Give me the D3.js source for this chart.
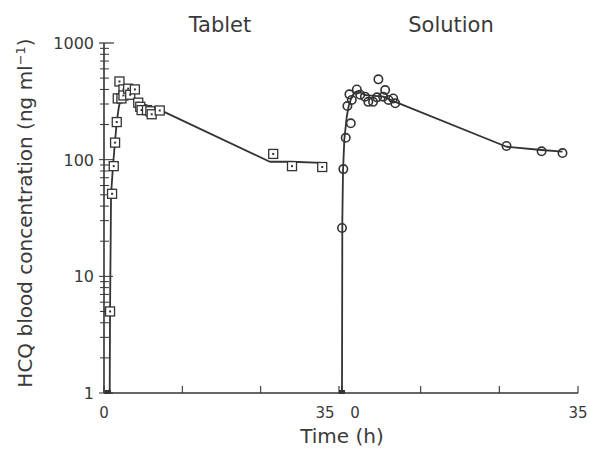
<!DOCTYPE html>
<html>
<head>
<meta charset="utf-8">
<script src="https://cdnjs.cloudflare.com/ajax/libs/d3/7.8.5/d3.min.js"></script>
<style>
  body { margin: 0; background: #fff; }
  text { font-family: "DejaVu Sans", sans-serif; fill: #3a3a3a; }
</style>
</head>
<body>
<div id="chart"></div>
<script>
// Tablet: measured points (time h, ng/ml)
const tabletTime = [0.9, 1.2, 1.45, 1.65, 1.9, 2.05, 2.3, 2.6, 2.9, 2.9, 3.6, 3.9, 4.6, 5.1, 5.4, 5.6, 6.4, 6.9, 7.1, 8.3, 25.2, 28.0, 32.5];
const tabletConc = [5.0, 51, 88, 140, 210, 335, 468, 335, 400, 355, 406, 360, 400, 308, 284, 266, 266, 260, 245, 264, 112, 88, 86.5];
// Tablet: fitted curve
const tabletFitTime = [0.85, 0.9, 1.05, 1.35, 1.65, 1.9, 2.2, 2.5, 2.8, 3.1, 3.5, 4.2, 5.4, 8.4, 24.7, 27.9, 32.5];
const tabletFitConc = [1, 5, 50, 90, 145, 210, 280, 335, 365, 378, 375, 350, 305, 266, 96, 96, 94];

// Solution: measured points
const solutionTime = [0.0, 0.2, 0.55, 0.8, 1.1, 1.3, 1.45, 2.2, 2.7, 3.4, 3.9, 4.6, 5.2, 5.4, 6.1, 6.4, 6.9, 7.6, 7.9, 24.4, 29.6, 32.7];
const solutionConc = [26, 83, 154, 288, 363, 205, 325, 400, 360, 347, 313, 313, 342, 488, 347, 395, 325, 335, 304, 131, 118, 114];
// Solution: fitted curve
const solutionFitTime = [0, 0.05, 0.15, 0.35, 0.7, 1.0, 1.4, 1.8, 2.2, 2.8, 3.5, 6.1, 7.9, 24.4, 29.6, 32.7];
const solutionFitConc = [1, 30, 80, 150, 232, 290, 340, 372, 385, 375, 357, 347, 313, 129, 121, 117];

const yTicks = [1, 10, 100, 1000];
const xTicks = [0, 11.67, 23.33, 35];

const W = 590, H = 452;
const ink = "#333";
const svg = d3.select("#chart").append("svg").attr("width", W).attr("height", H);

const y = d3.scaleLog().domain([1, 1000]).range([393, 43]);
const axisX = 104, axisY = 393;

const panels = [
  { name: "Tablet", t: tabletTime, c: tabletConc, ft: tabletFitTime, fc: tabletFitConc,
    x: d3.scaleLinear().domain([0, 35]).range([104, 339]), shape: "square" },
  { name: "Solution", t: solutionTime, c: solutionConc, ft: solutionFitTime, fc: solutionFitConc,
    x: d3.scaleLinear().domain([0, 35]).range([342, 578]), shape: "circle" }
];

// y axis line with log ticks
svg.append("line").attr("x1", axisX).attr("x2", axisX).attr("y1", y(1000)).attr("y2", axisY)
  .attr("stroke", ink).attr("stroke-width", 1.6);
const minor = y.ticks().filter(v => v < 1000);
svg.selectAll(".ytick").data(minor).enter().append("line")
  .attr("x1", v => yTicks.includes(v) ? axisX - 5 : axisX - 4)
  .attr("x2", v => yTicks.includes(v) ? axisX + 9 : axisX + 5)
  .attr("y1", v => y(v)).attr("y2", v => y(v))
  .attr("stroke", ink).attr("stroke-width", 1);
svg.append("line").attr("x1", axisX - 5).attr("x2", axisX + 10).attr("y1", y(1000)).attr("y2", y(1000))
  .attr("stroke", ink).attr("stroke-width", 1.2);
svg.selectAll(".ylab").data(yTicks).enter().append("text")
  .attr("x", 94).attr("y", v => y(v) + 6)
  .attr("text-anchor", "end").style("font-size", "16px")
  .text(v => v);

// x axis line
svg.append("line").attr("x1", axisX).attr("x2", 578).attr("y1", axisY).attr("y2", axisY)
  .attr("stroke", ink).attr("stroke-width", 1.6);

const line = d3.line().curve(d3.curveLinear);

panels.forEach((p, pi) => {
  const x = p.x;
  // ticks
  svg.selectAll(".xt" + pi).data(xTicks).enter().append("line")
    .attr("x1", d => x(d)).attr("x2", d => x(d))
    .attr("y1", axisY).attr("y2", axisY - 7)
    .attr("stroke", ink).attr("stroke-width", 1.1);
  // tick labels at the ends
  const labs = [
    { v: 0, dx: pi === 0 ? 0 : 13 },
    { v: 35, dx: pi === 0 ? -14 : 0 }
  ];
  svg.selectAll(".xl" + pi).data(labs).enter().append("text")
    .attr("x", d => x(d.v) + d.dx).attr("y", 418)
    .attr("text-anchor", "middle").style("font-size", "15px")
    .text(d => d.v);

  // panel title
  svg.append("text").attr("x", pi === 0 ? 220 : 451).attr("y", 32)
    .attr("text-anchor", "middle").style("font-size", "21px").text(p.name);

  // fitted curve
  const fit = p.ft.map((t, i) => [x(t), y(p.fc[i])]);
  svg.append("path").attr("d", line(fit))
    .attr("fill", "none").attr("stroke", ink).attr("stroke-width", 1.8)
    .attr("stroke-linejoin", "round");

  // value below detection at t = 0
  svg.append("rect").attr("x", x(0) + (pi === 0 ? 1 : -3)).attr("y", axisY - 3)
    .attr("width", 6).attr("height", 4).attr("fill", ink);

  // points
  const pts = p.t.map((t, i) => ({ t: t, c: p.c[i] }));
  if (p.shape === "square") {
    const g = svg.selectAll(".sq").data(pts).enter().append("g")
      .attr("transform", d => `translate(${x(d.t)},${y(d.c)})`);
    g.append("rect").attr("x", -4.5).attr("y", -4.5).attr("width", 9).attr("height", 9)
      .attr("fill", "#fff").attr("stroke", ink).attr("stroke-width", 1.3);
    g.append("rect").attr("x", -1).attr("y", -1).attr("width", 2).attr("height", 2).attr("fill", ink);
  } else {
    svg.selectAll(".ci").data(pts).enter().append("circle")
      .attr("cx", d => x(d.t)).attr("cy", d => y(d.c)).attr("r", 4.2)
      .attr("fill", "none").attr("stroke", ink).attr("stroke-width", 1.6);
  }
});

// axis titles
svg.append("text").attr("x", 342).attr("y", 443)
  .attr("text-anchor", "middle").style("font-size", "20px").text("Time (h)");

const yt = svg.append("text")
  .attr("transform", "translate(32,213) rotate(-90)")
  .attr("text-anchor", "middle").style("font-size", "20px");
yt.append("tspan").text("HCQ blood concentration (ng ml");
yt.append("tspan").attr("dy", -7).style("font-size", "13px").text("\u22121");
yt.append("tspan").attr("dy", 7).text(")");
</script>
</body>
</html>
